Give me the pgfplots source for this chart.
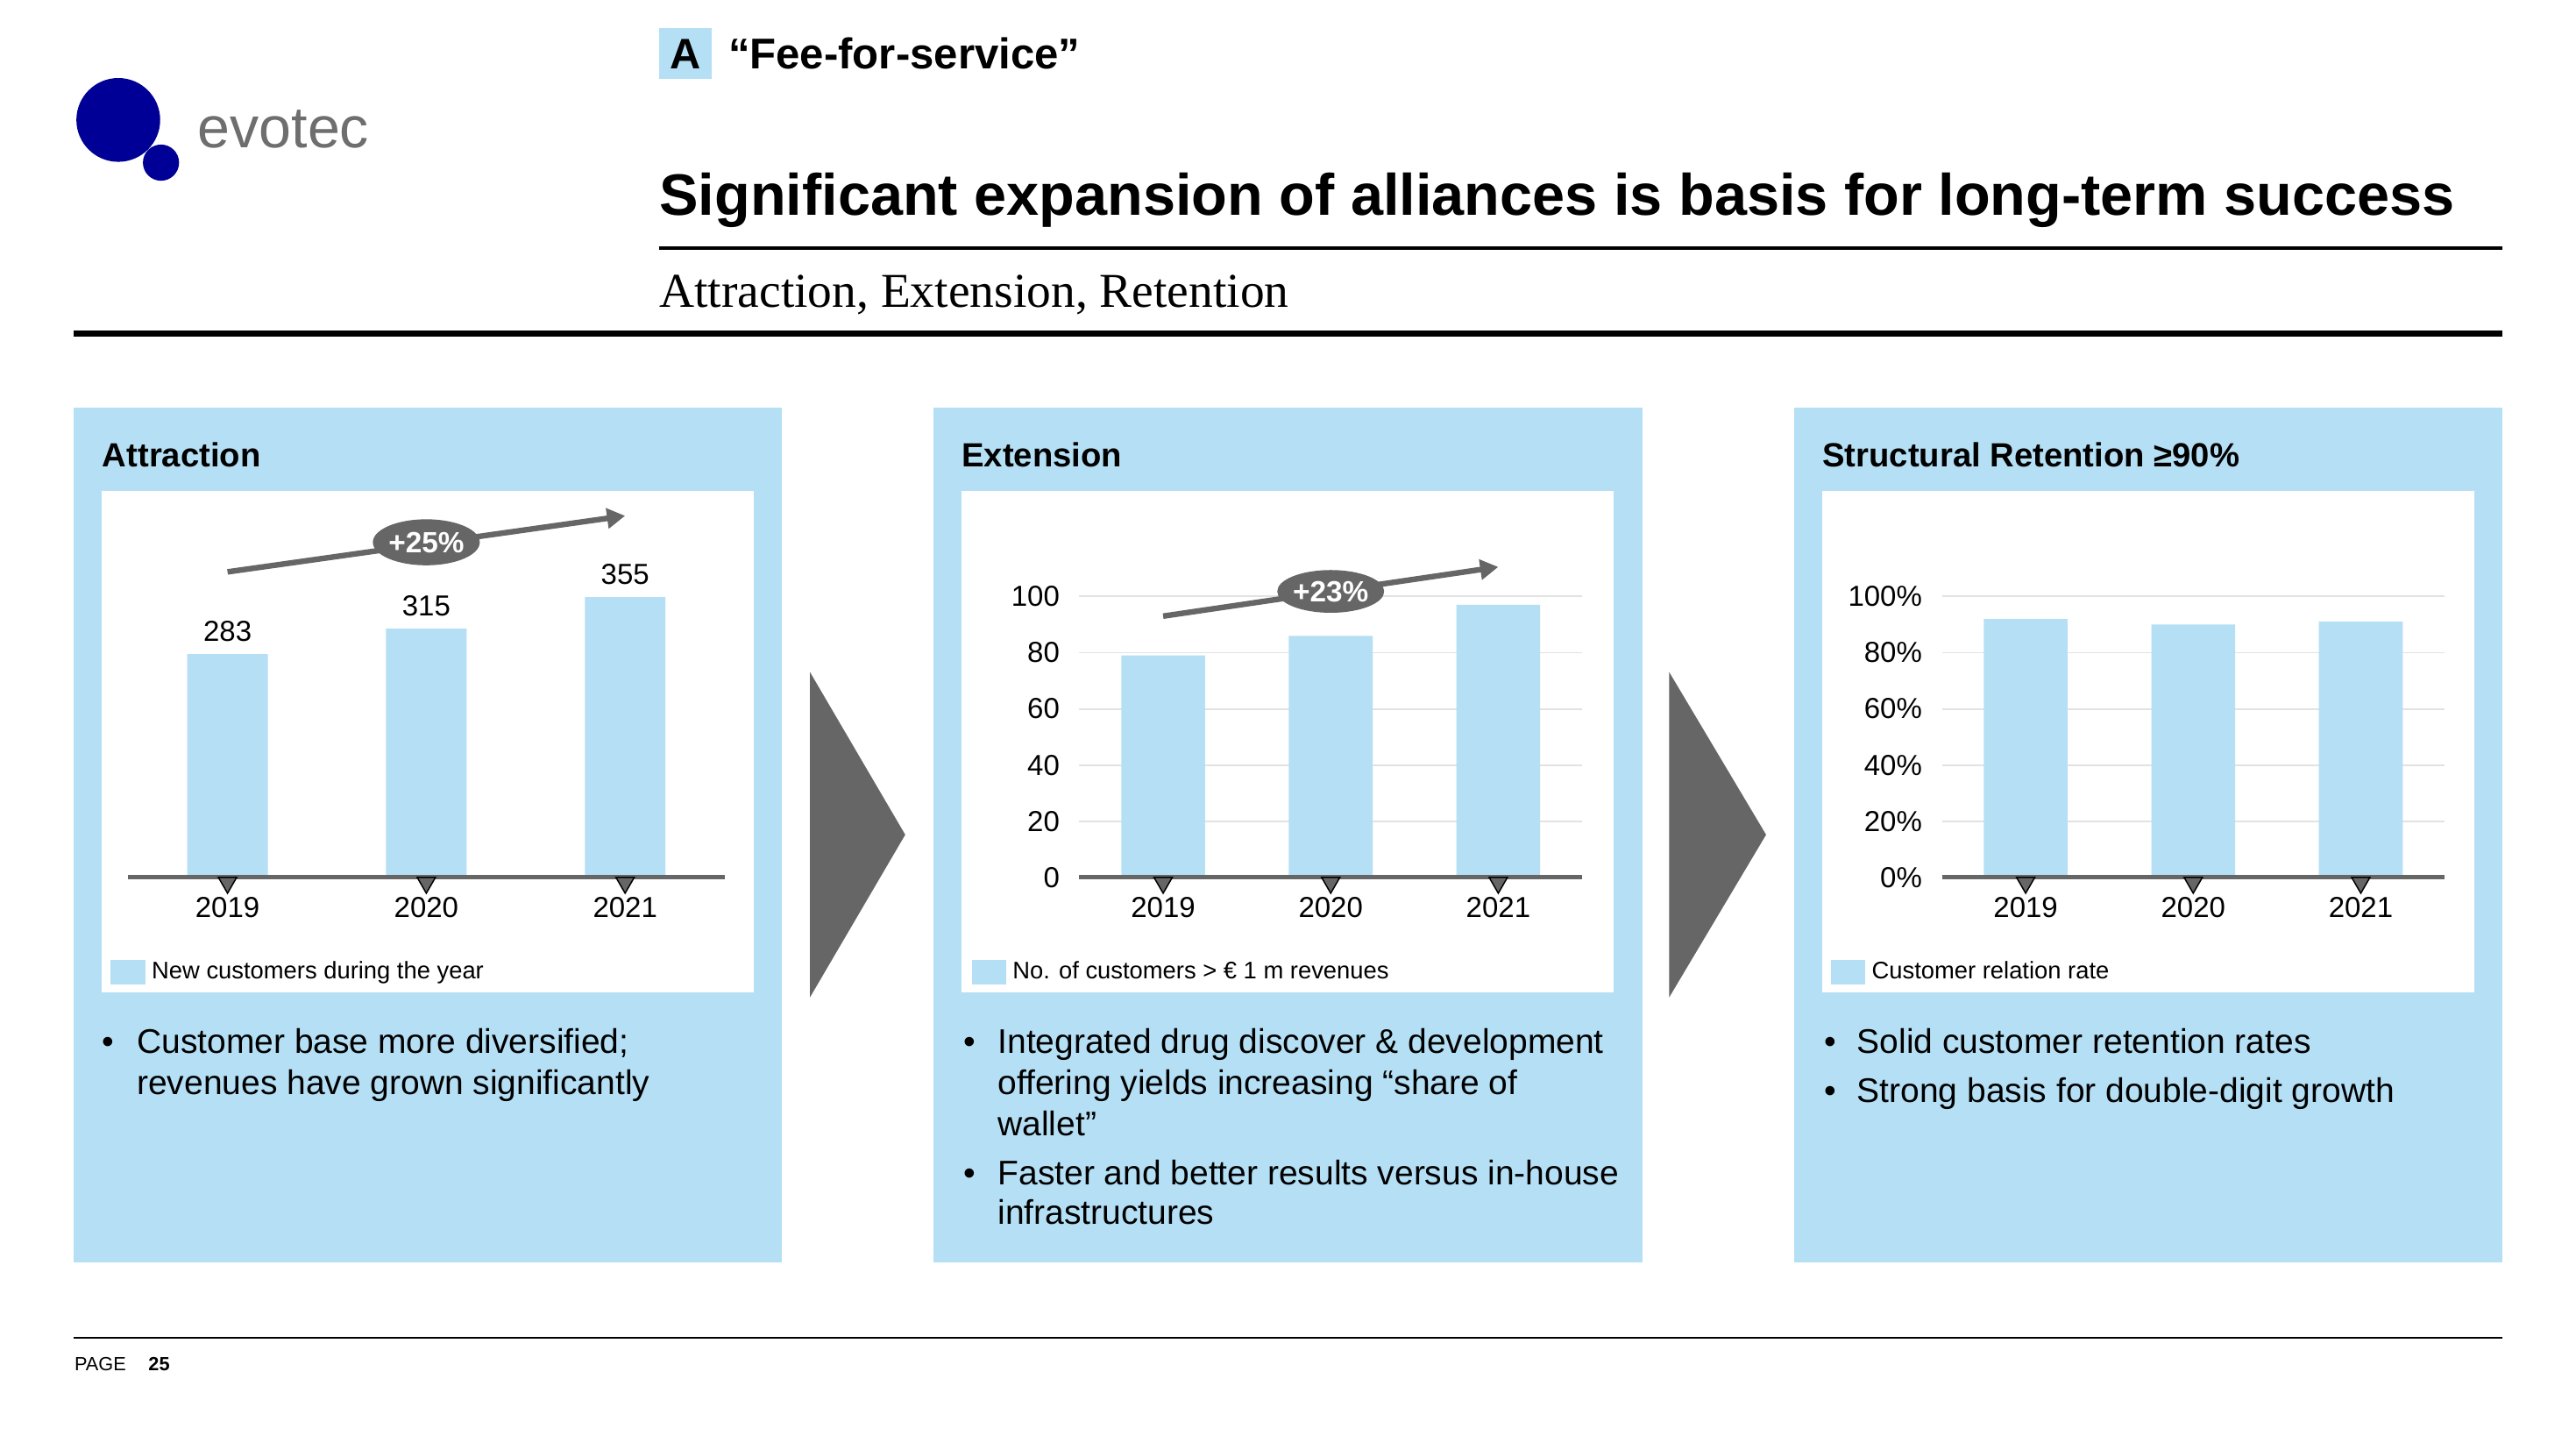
\documentclass[border=0pt]{standalone}
\usepackage{pgfplots}
\pgfplotsset{compat=1.18}
\usepackage{fontspec}
\setmainfont{Liberation Sans}
\newfontfamily\seriffont{Liberation Serif}
\usetikzlibrary{arrows.meta,shapes.geometric}
\definecolor{barblue}{HTML}{B4DFF4}
\definecolor{darkgray}{HTML}{666666}
\definecolor{logoblue}{HTML}{000096}
\definecolor{gridgray}{HTML}{E2E2E2}
\definecolor{evogray}{HTML}{6E6E6E}

\pgfplotsset{
  slidebar/.style={
    scale only axis,
    anchor=south west,
    xmin=-0.5, xmax=2.5,
    xtick={0,1,2},
    xticklabels={2019,2020,2021},
    axis x line*=bottom,
    axis y line*=left,
    x axis line style={draw=darkgray, line width=1.35pt},
    y axis line style={draw=none},
    major tick length=0pt,
    ymin=0,
    clip=false,
    ticklabel style={font=\fontsize{8.8}{10}\selectfont, text=black},
    xticklabel style={yshift=-2.6pt},
    /pgf/number format/assume math mode=true,
    legend style={draw=none, fill=none, anchor=west, font=\fontsize{7.3}{9}\selectfont, inner sep=0pt},
    legend cell align=left,
    legend image code/.code={\fill[barblue] (0pt,-3.75pt) rectangle (10.5pt,3.75pt);},
  },
  tri/.style={forget plot, only marks, mark=triangle*, mark size=3.2pt, mark options={fill=darkgray, draw=none, yshift=-1.6pt, rotate=180}},
}

\begin{document}
\begin{tikzpicture}[x=0.5pt,y=0.5pt]
\useasboundingbox (0,0) rectangle (1568,882);
\fill[white] (0,0) rectangle (1568,882);
% logo
\fill[logoblue] (72,809) circle[radius=25.5];
\fill[logoblue] (98,783) circle[radius=11];
\node[anchor=base west, text=evogray, font=\fontsize{17.7}{20}\selectfont, inner sep=0] at (120,792) {evotec};
% header
\fill[barblue] (401,834) rectangle (433,865);
\node[anchor=base, inner sep=0, font=\bfseries\fontsize{13}{15}\selectfont] at (417,840) {A};
\node[anchor=base west, inner sep=0, font=\bfseries\fontsize{13.1}{15}\selectfont] at (443,840) {“Fee-for-service”};
\node[anchor=base west, inner sep=0, font=\bfseries\fontsize{17.78}{20}\selectfont] at (401,751) {Significant expansion of alliances is basis for long-term success};
\draw[black, line width=1pt] (401,731) -- (1523,731);
\node[anchor=base west, inner sep=0, font=\seriffont\fontsize{14.8}{17}\selectfont] at (401,695) {Attraction, Extension, Retention};
\draw[black, line width=2pt] (45,679) -- (1523,679);
% panels
\fill[barblue] (45,114) rectangle (476,634);
\fill[barblue] (568,114) rectangle (1000,634);
\fill[barblue] (1092,114) rectangle (1523,634);
\fill[white] (62,278) rectangle (459,583);
\fill[white] (585,278) rectangle (982,583);
\fill[white] (1109,278) rectangle (1506,583);
\fill[darkgray] (493,473) -- (551,374) -- (493,275) -- cycle;
\fill[darkgray] (1016,473) -- (1075,374) -- (1016,275) -- cycle;
\begin{scope}[every node/.style={anchor=base west, inner sep=0, font=\bfseries\fontsize{10.2}{12}\selectfont}]
\node at (62,598) {Attraction};
\node at (585,598) {Extension};
\node at (1109,598) {Structural Retention ≥90\%};
\end{scope}
\begin{scope}[every node/.style={anchor=base west, inner sep=0, font=\fontsize{10.4}{12.5}\selectfont}]
\node at (62,241) {•}; \node at (83,241) {Customer base more diversified;};
\node at (83,216) {revenues have grown significantly};
\node at (586,241) {•}; \node at (607,241) {Integrated drug discover \& development};
\node at (607,216) {offering yields increasing “share of};
\node at (607,191) {wallet”};
\node at (586,161) {•}; \node at (607,161) {Faster and better results versus in-house};
\node at (607,137) {infrastructures};
\node at (1110,241) {•}; \node at (1130,241) {Solid customer retention rates};
\node at (1110,211) {•}; \node at (1130,211) {Strong basis for double-digit growth};
\end{scope}
% footer
\draw[black, line width=0.6pt] (45,68) -- (1523,68);
\node[anchor=base west, inner sep=0, font=\fontsize{5.8}{7}\selectfont] at (45,48) {PAGE};
\node[anchor=base west, inner sep=0, font=\bfseries\fontsize{5.8}{7}\selectfont] at (90,48) {25};

% Chart 1
\begin{axis}[slidebar, at={(39pt,174pt)}, width=181.5pt, height=96.1pt, ymax=400, ytick=\empty,
  legend style={at={(axis description cs:-0.0303,-0.3)}}]
\addplot[ybar, fill=barblue, draw=none, bar width=24.5pt,
  nodes near coords, nodes near coords style={font=\fontsize{8.8}{10}\selectfont, anchor=south, yshift=0.3pt}]
  coordinates {(0,283) (1,315) (2,355)};
\addlegendentry{New customers during the year}
\draw[darkgray, line width=1.35pt] (axis cs:-0.5,0) -- (axis cs:2.5,0);
\addplot[tri] coordinates {(0,0) (1,0) (2,0)};
\draw[darkgray, line width=1.7pt, -{Triangle[length=5.5pt,width=6pt]}] (axis cs:0,387) -- (axis cs:2,458);
\node[ellipse, fill=darkgray, minimum width=31pt, minimum height=14pt, inner sep=0, text=white, font=\bfseries\fontsize{8.9}{10}\selectfont] at (axis cs:1,424.5) {+25\%};
\end{axis}

% Chart 2
\begin{axis}[slidebar, at={(328.5pt,174pt)}, width=153pt, height=85.5pt, ymax=100, ytick={0,20,...,100},
  ymajorgrids, grid style={gridgray, line width=0.5pt},
  yticklabel style={xshift=-2.5pt},
  legend style={at={(axis description cs:-0.2157,-0.3375)}}]
\addplot[ybar, fill=barblue, draw=none, bar width=25.5pt] coordinates {(0,79) (1,86) (2,97)};
\addlegendentry{No. of customers > € 1 m revenues}
\draw[darkgray, line width=1.35pt] (axis cs:-0.5,0) -- (axis cs:2.5,0);
\addplot[tri] coordinates {(0,0) (1,0) (2,0)};
\draw[darkgray, line width=1.7pt, -{Triangle[length=5.5pt,width=6pt]}] (axis cs:0,93) -- (axis cs:2,110.5);
\node[ellipse, fill=darkgray, minimum width=29pt, minimum height=13pt, inner sep=0, text=white, font=\bfseries\fontsize{8.9}{10}\selectfont] at (axis cs:1,101.8) {+23\%};
\end{axis}

% Chart 3
\begin{axis}[slidebar, at={(591pt,174pt)}, width=153pt, height=85.5pt, ymax=100, ytick={0,20,...,100},
  yticklabel={\pgfmathprintnumber{\tick}\%},
  ymajorgrids, grid style={gridgray, line width=0.5pt},
  yticklabel style={xshift=-2.5pt},
  legend style={at={(axis description cs:-0.2222,-0.3375)}}]
\addplot[ybar, fill=barblue, draw=none, bar width=25.5pt] coordinates {(0,92) (1,90) (2,91)};
\addlegendentry{Customer relation rate}
\draw[darkgray, line width=1.35pt] (axis cs:-0.5,0) -- (axis cs:2.5,0);
\addplot[tri] coordinates {(0,0) (1,0) (2,0)};
\end{axis}
\end{tikzpicture}
\end{document}
